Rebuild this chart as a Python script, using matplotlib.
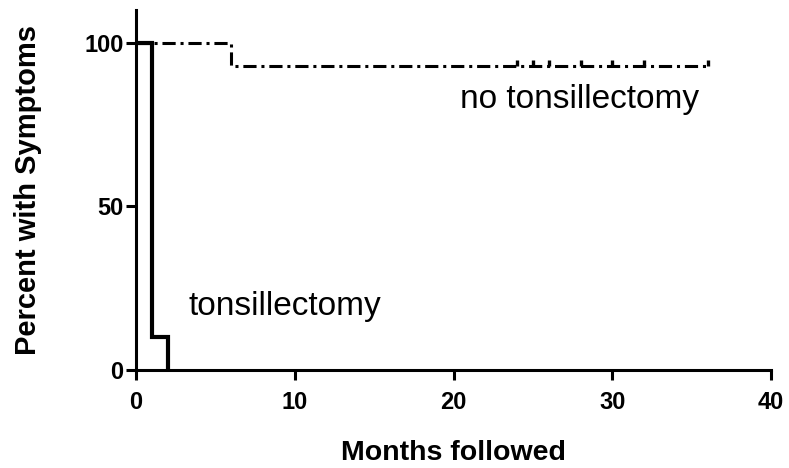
import numpy as np
import matplotlib
matplotlib.use('Agg')
import matplotlib.pyplot as plt

# ─── DATA ────────────────────────────────────────────────────────────────────
tons_t = [0, 1, 2]
tons_pct = [100, 10, 0]

notons_t = [0, 6, 36]
notons_pct = [100, 92.86, 92.86]
notons_cens = [24, 25, 26, 28, 30, 32, 36]   # censored follow-up (months)

x_ticks = [0, 10, 20, 30, 40]
y_ticks = [0, 50, 100]

plt.rcParams['font.family'] = ['Liberation Sans', 'DejaVu Sans']
plt.rcParams['lines.scale_dashes'] = False

fig = plt.figure(figsize=(7.89, 4.68), dpi=100)
ax = fig.add_axes([0.1724, 0.2094, 0.8048, 0.7692])

ax.step(notons_t, notons_pct, where='post', color='black', lw=2.2,
        linestyle=(0, (9.5, 3.5, 2.2, 3.5)), dash_capstyle='butt')
# censor ticks sit on the curve
cens_y = np.interp(notons_cens, notons_t, notons_pct)
ax.vlines(notons_cens, cens_y, cens_y + 1.9, color='black', lw=2.4)

ax.step(tons_t, tons_pct, where='post', color='black', lw=3.0,
        solid_joinstyle='miter')

ax.text(20.4, 80, "no tonsillectomy", fontsize=24, va='baseline', ha='left')
ax.text(3.3, 16.8, "tonsillectomy", fontsize=24, va='baseline', ha='left')

ax.set_xlim(0, 40)
ax.set_ylim(0, 110)
ax.set_xticks(x_ticks)
ax.set_yticks(y_ticks)
ax.spines['top'].set_visible(False)
ax.spines['right'].set_visible(False)
for s in ('left', 'bottom'):
    ax.spines[s].set_linewidth(2.2)
ax.tick_params(width=2.2, length=7, labelsize=17, pad=2)
ax.tick_params(axis='x', pad=8)
for lab in ax.get_xticklabels() + ax.get_yticklabels():
    lab.set_fontweight('bold')

ax.set_xlabel("Months followed", fontsize=20.5, fontweight='bold', labelpad=19)
ax.set_ylabel("Percent with Symptoms", fontsize=21, fontweight='bold', labelpad=30)

fig.savefig("out.png", dpi=100)
